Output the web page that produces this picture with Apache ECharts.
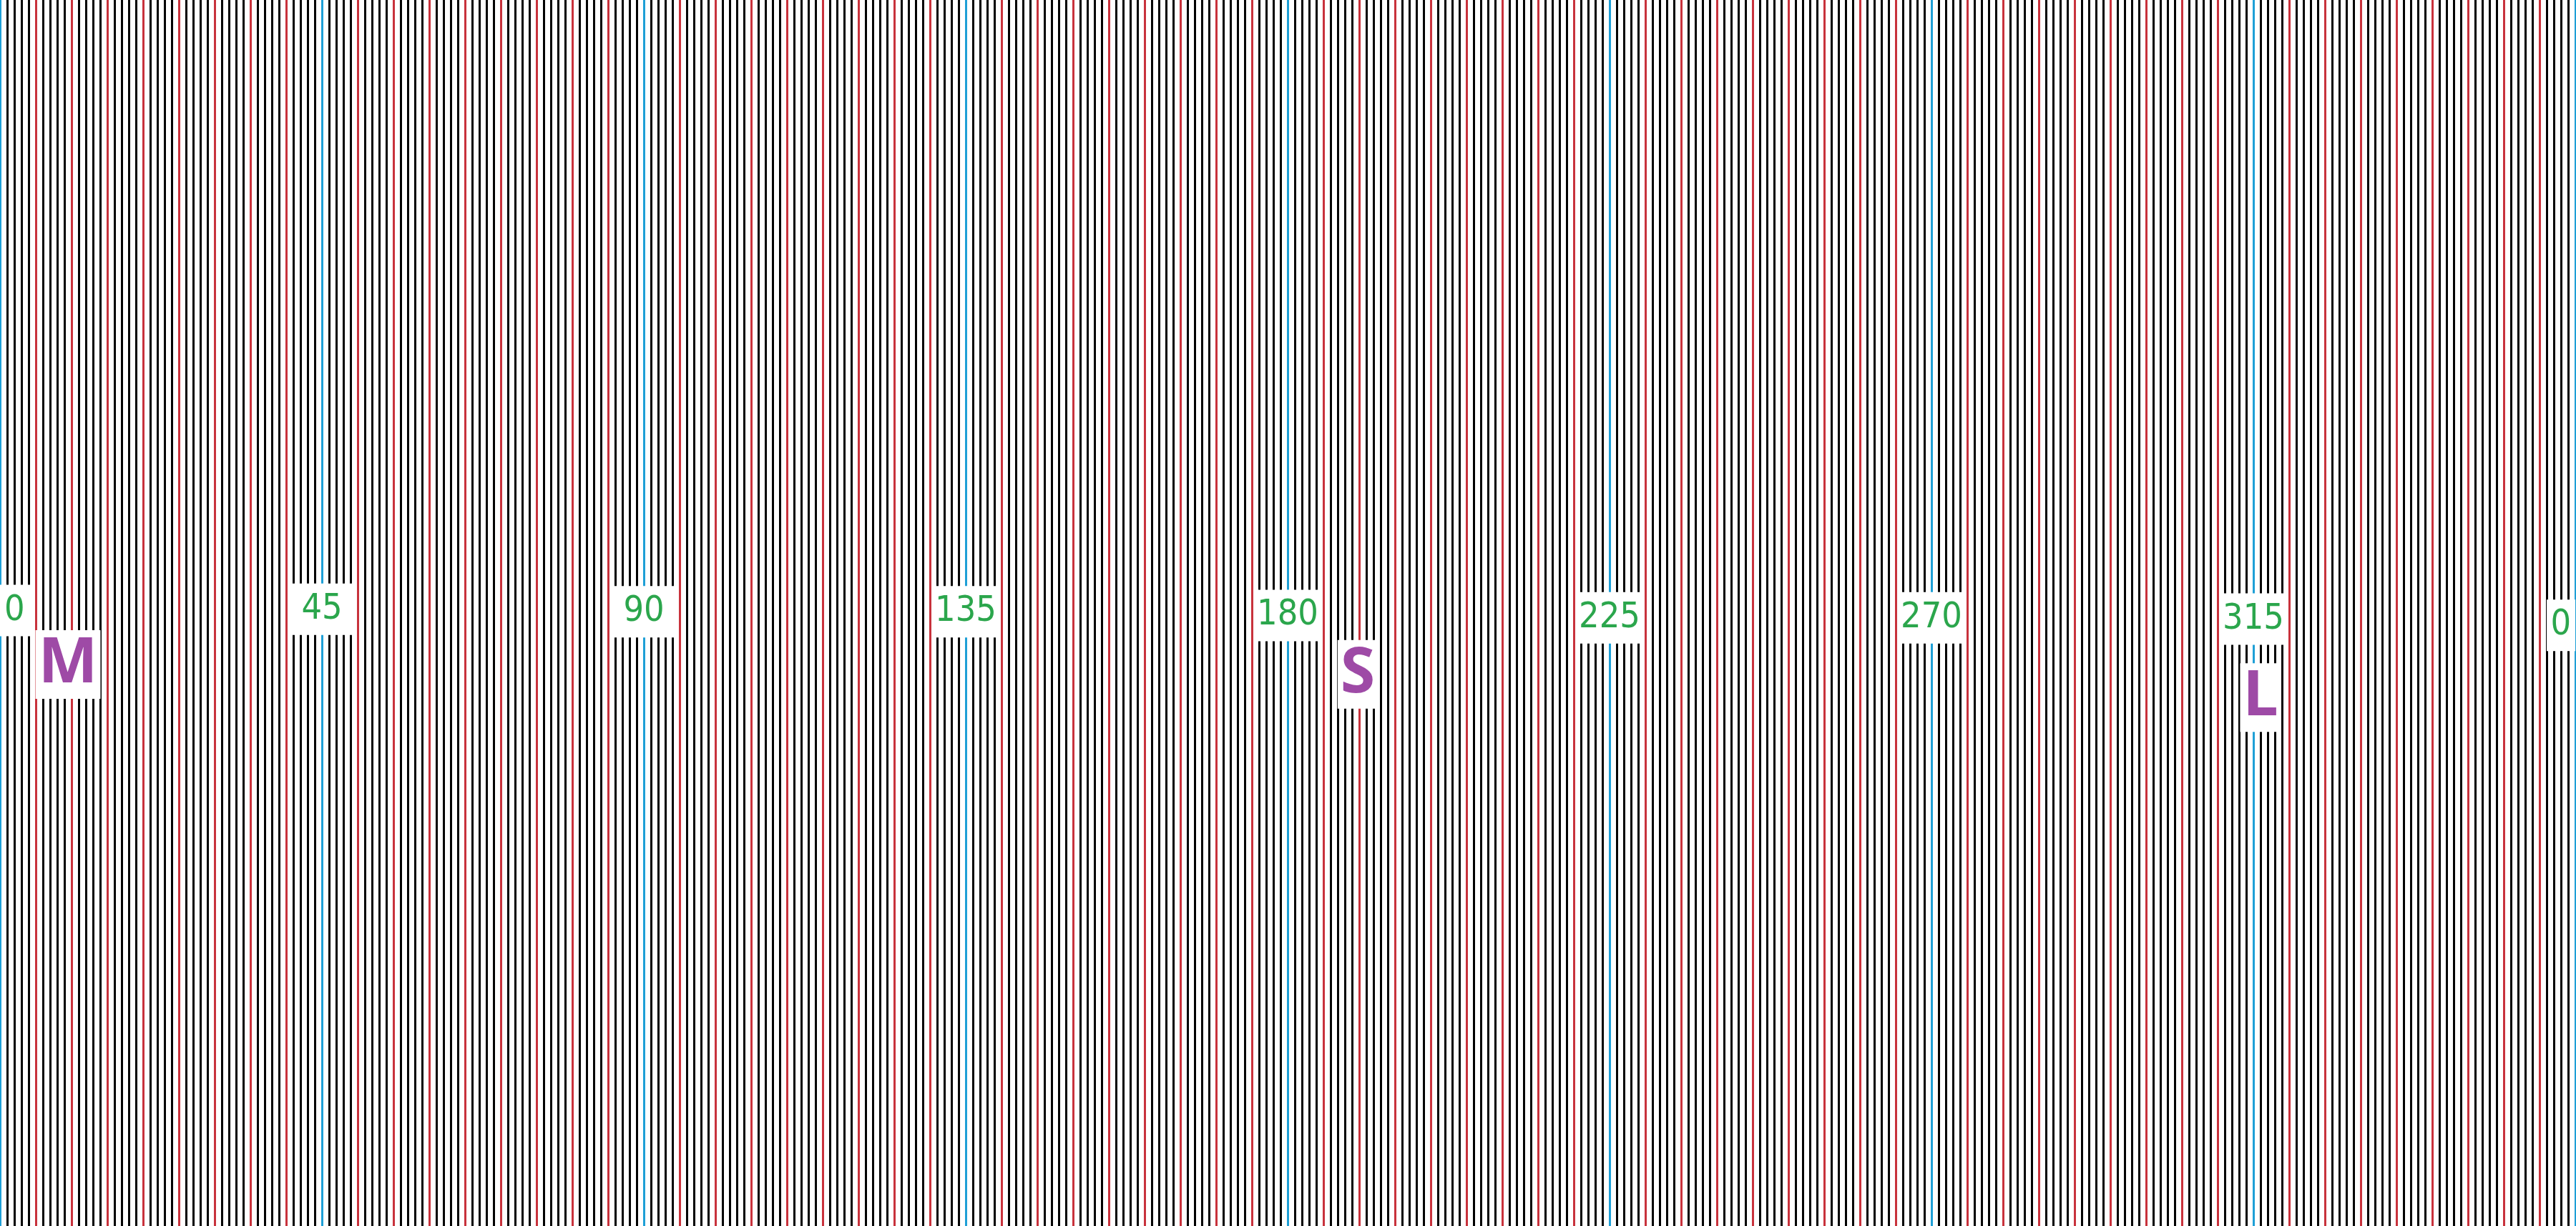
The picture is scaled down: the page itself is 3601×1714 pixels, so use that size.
<!DOCTYPE html>
<html>
<head>
<meta charset="utf-8">
<script src="https://cdn.jsdelivr.net/npm/echarts@6/dist/echarts.min.js"></script>
<style>
html,body{margin:0;padding:0;background:#fff;}
#chart{width:3601px;height:1714px;}
</style>
</head>
<body>
<div id="chart"></div>
<script>
// Heading scale: degrees 0..360, one line per degree, red every 5, blue every 45
const scaleMin = 0;
const scaleMax = 360;
const minorStep = 1;
const midStep = 5;
const majorStep = 45;

// Tick labels (degrees) and the text shown
const tickDegrees = [0, 45, 90, 135, 180, 225, 270, 315, 360];
const tickLabels  = ['0', '45', '90', '135', '180', '225', '270', '315', '0'];
const tickLevel   = [49.8, 49.7, 49.9, 49.9, 50.2, 50.4, 50.4, 50.5, 51.0];

// Letter markers
const letterNames   = ['M', 'S', 'L'];
const letterDegrees = [9.5, 189.8, 316];
const letterLevel   = [54.2, 55.0, 56.9];

const chart = echarts.init(document.getElementById('chart'));

function lineAxis(step, color, width, z) {
  return {
    type: 'value', min: scaleMin, max: scaleMax, interval: step, gridIndex: 0, z: z,
    axisLine: {show: false}, axisTick: {show: false}, axisLabel: {show: false},
    splitLine: {show: true, lineStyle: {color: color, width: width}}
  };
}

const tickData = tickDegrees.map((d, i) => {
  const item = {value: [d, tickLevel[i]], name: tickLabels[i]};
  if (i === 0) item.label = {align: 'left', width: 30, offset: [-2, 0]};
  if (i === tickDegrees.length - 1) item.label = {align: 'right', width: 28, offset: [4, 0]};
  return item;
});

const letterData = letterNames.map((n, i) => ({value: [letterDegrees[i], letterLevel[i]], name: n}));

chart.setOption({
  animation: false,
  backgroundColor: '#ffffff',
  grid: {left: 0, top: 0, width: 3600, height: 1714, containLabel: false},
  xAxis: [
    lineAxis(minorStep, '#000000', 3, 1),
    lineAxis(midStep, '#c8323c', 3, 2),
    lineAxis(majorStep, '#1e9fd6', 3, 3)
  ],
  yAxis: {type: 'value', min: 0, max: 100, inverse: true, show: false, splitLine: {show: false}},
  series: [
    {
      type: 'scatter', xAxisIndex: 0, z: 10, symbolSize: 2,
      itemStyle: {color: 'rgba(255,255,255,0)'},
      labelLayout: {hideOverlap: false},
      data: tickData,
      label: {
        show: true, position: 'inside', formatter: '{b}', opacity: 1,
        color: '#2ba64c', fontFamily: '"Liberation Sans Narrow", "DejaVu Sans Condensed", "Noto Sans"',
        fontSize: 50, fontWeight: 'normal', width: 76, align: 'center',
        backgroundColor: '#ffffff', padding: [6, 6, 6, 6], lineHeight: 60
      }
    },
    {
      type: 'scatter', xAxisIndex: 0, z: 10, symbolSize: 2,
      itemStyle: {color: 'rgba(255,255,255,0)'},
      labelLayout: {hideOverlap: false},
      data: letterData,
      label: {
        show: true, position: 'inside', formatter: '{b}', opacity: 1,
        color: '#9e4aa6', fontFamily: 'Noto Sans', fontSize: 88, fontWeight: 'bold',
        backgroundColor: '#ffffff', padding: [6, 4, 6, 4], lineHeight: 84
      }
    }
  ]
});
</script>
</body>
</html>
